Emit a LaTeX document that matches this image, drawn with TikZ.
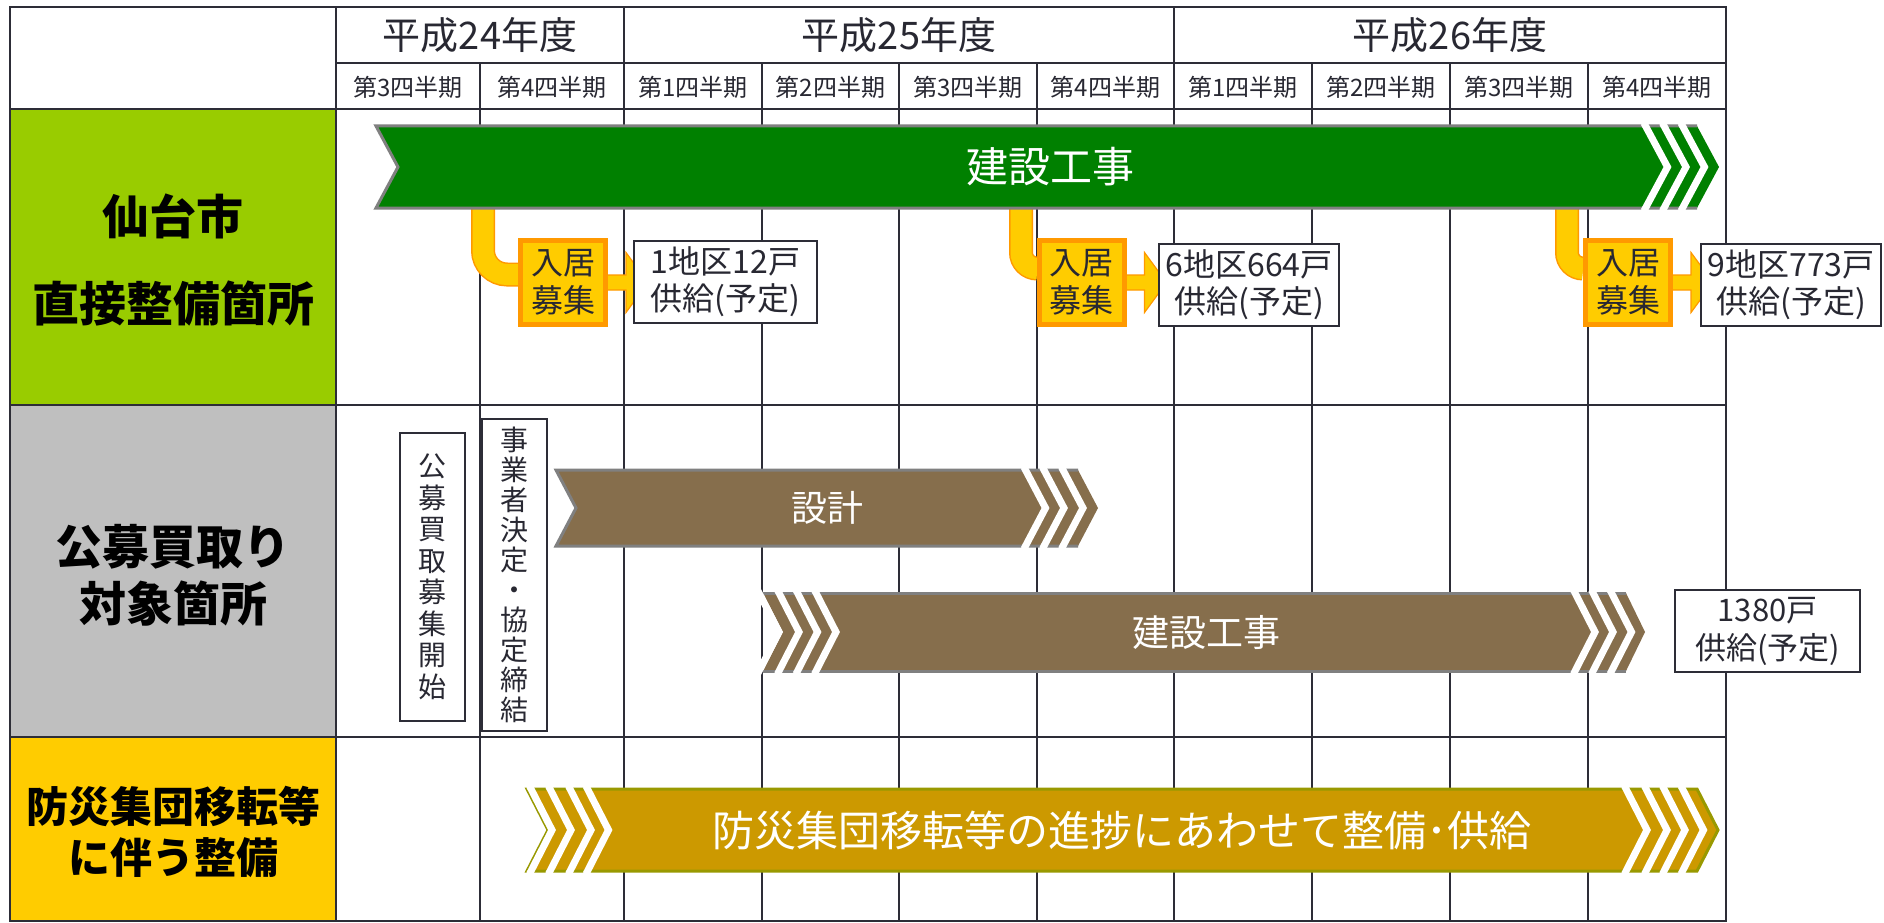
\documentclass[tikz,border=0pt]{standalone}
\usepackage{fontspec}
\setmainfont{Noto Sans CJK JP}
\definecolor{gridc}{RGB}{45,45,55}
\definecolor{txt}{RGB}{40,40,50}
\definecolor{lgreen}{RGB}{153,204,0}
\definecolor{lgray}{RGB}{191,191,191}
\definecolor{lyellow}{RGB}{255,204,0}
\definecolor{dgreen}{RGB}{0,128,0}
\definecolor{brownbar}{RGB}{134,110,76}
\definecolor{goldbar}{RGB}{204,153,0}
\definecolor{olivec}{RGB}{153,153,0}
\definecolor{barline}{RGB}{128,128,128}
\definecolor{orangec}{RGB}{255,153,0}
\pgfdeclarelayer{gridlayer}
\pgfdeclarelayer{links}
\begin{document}
\begin{tikzpicture}[x=1pt,y=-1pt,
  gridline/.style={draw=gridc, line width=2pt},
  hdr/.style={font=\fontsize{38}{44}\selectfont, text=txt, inner sep=0pt},
  qhdr/.style={font=\fontsize{24}{27}\selectfont, text=txt, inner sep=0pt},
  lbl/.style={align=center, text=black, inner sep=0pt},
  bartxt/.style={text=white, inner sep=0pt},
  wcut/.style={draw=white, line width=7pt, line join=miter},
  edge/.style={draw=barline, line width=3pt, line join=miter},
  tbox/.style={draw=gridc, fill=white, line width=2pt, inner sep=0pt, align=center, text=txt},
  obox/.style={draw=orangec, fill=lyellow, line width=5pt, inner sep=0pt, minimum width=85pt, minimum height=84pt, align=center, font=\fontsize{32}{38}\selectfont, text=txt},
  connout/.style={draw=orangec, line width=24pt},
  connin/.style={draw=lyellow, line width=21pt},
  barrow/.style={fill=lyellow, draw=orangec, line width=1.2pt, line join=miter}]
\pgfsetlayers{gridlayer,links,main}
\useasboundingbox (0,0) rectangle (1884,923);

\begin{pgfonlayer}{gridlayer}
\fill[white] (0,0) rectangle (1884,923);
\fill[lgreen] (10,109) rectangle (336,405);
\fill[lgray] (10,405) rectangle (336,737);
\fill[lyellow] (10,737) rectangle (336,921);
\draw[gridline] (10,7) rectangle (1726,921);
\draw[gridline] (336,63) -- (1726,63);
\foreach \yy in {109,405,737} \draw[gridline] (10,\yy) -- (1726,\yy);
\foreach \xx in {336,624,1174} \draw[gridline] (\xx,7) -- (\xx,921);
\foreach \xx in {480,762,899,1037,1312,1450,1588} \draw[gridline] (\xx,63) -- (\xx,921);
\end{pgfonlayer}

% headers
\node[hdr] (y24) at (480,35) {平成24年度};
\node[hdr] (y25) at (899,35) {平成25年度};
\node[hdr] (y26) at (1450,35) {平成26年度};
\foreach \xx/\qn [count=\i] in {408/3,552/4,693/1,830.5/2,968/3,1105.5/4,1243/1,1381/2,1519/3,1657/4}
  \node[qhdr] (q\i) at (\xx,87) {第\qn 四半期};

% row labels
\node[lbl, font=\bfseries\fontsize{47}{87}\selectfont] (l1) at (173,260) {仙台市\\直接整備箇所};
\node[lbl, font=\bfseries\fontsize{47}{57}\selectfont] (l2) at (173,575) {公募買取り\\対象箇所};
\node[lbl, font=\bfseries\fontsize{42}{51}\selectfont] (l3) at (173,832) {防災集団移転等\\に伴う整備};

% green bar
\fill[dgreen] (376,126) -- (1697,126) -- (1719,167) -- (1697,208) -- (376,208) -- (398,167) -- cycle;
\draw[edge] (1697,126) -- (376,126) -- (398,167) -- (376,208) -- (1697,208);
\foreach \xx in {1645.5,1664,1682.5} \draw[wcut] (\xx-1.6,123) -- (\xx+22,167) -- (\xx-1.6,211);
\node[bartxt, font=\fontsize{42}{48}\selectfont] (gtxt) at (1050,167) {建設工事};

% design bar
\fill[brownbar] (556,470) -- (1078,470) -- (1098,508) -- (1078,546) -- (556,546) -- (576,508) -- cycle;
\draw[edge] (1078,470) -- (556,470) -- (576,508) -- (556,546) -- (1078,546);
\foreach \xx in {1025.5,1044,1063} \draw[wcut] (\xx-1.6,467) -- (\xx+20,508) -- (\xx-1.6,549);
\node[bartxt, font=\fontsize{36}{42}\selectfont] (stxt) at (827,508) {設計};

% brown construction bar
\fill[brownbar] (763,593) -- (1626,593) -- (1645,632) -- (1626,671) -- (763,671) -- (783,632) -- cycle;
\draw[edge] (1626,593) -- (763,593);
\draw[edge] (763,671) -- (1626,671);
\foreach \xx in {759,779,797.5,816,1575,1593,1611.5} \draw[wcut] (\xx-1.5,590) -- (\xx+20,632) -- (\xx-1.5,674);
\node[bartxt, font=\fontsize{37}{42}\selectfont] (btxt) at (1206,632) {建設工事};

% gold bar
\fill[goldbar] (527,789) -- (1697,789) -- (1718,830) -- (1697,871) -- (527,871) -- (548,830) -- cycle;
\draw[draw=olivec, line width=3pt, line join=miter] (527,789) -- (1697,789) -- (1718,830) -- (1697,871) -- (527,871) -- (548,830) -- cycle;
\foreach \xx in {531,550,570,587.5,1626,1646,1664,1682.5} \draw[wcut] (\xx-1.5,786) -- (\xx+21,830) -- (\xx-1.5,874);
\node[bartxt, font=\fontsize{42}{48}\selectfont] (ytxt) at (1122,831) {防災集団移転等の進捗にあわせて整備･供給};

% recruitment boxes
\node[obox] (b1) at (563,282.5) {入居\\募集};
\node[obox] (b2) at (1081.5,282.5) {入居\\募集};
\node[obox] (b3) at (1628,282.5) {入居\\募集};

% supply boxes
\node[tbox, minimum width=183pt, minimum height=82pt, font=\fontsize{32}{37}\selectfont] (t1) at (725.5,282) {1地区12戸\\供給(予定)};
\node[tbox, minimum width=180pt, minimum height=82pt, font=\fontsize{32}{37}\selectfont] (t2) at (1249,285) {6地区664戸\\供給(予定)};
\node[tbox, minimum width=180pt, minimum height=82pt, font=\fontsize{32}{37}\selectfont] (t3) at (1791,285) {9地区773戸\\供給(予定)};
\node[tbox, minimum width=185pt, minimum height=82pt, font=\fontsize{31}{38}\selectfont] (t4) at (1767.5,631) {1380戸\\供給(予定)};

% vertical boxes
\node[tbox, minimum width=65pt, minimum height=288pt, font=\fontsize{28}{31.5}\selectfont] (v1) at (432.5,577) {公\\募\\買\\取\\募\\集\\開\\始};
\node[tbox, minimum width=65pt, minimum height=312pt, font=\fontsize{28}{30}\selectfont] (v2) at (514.5,575) {事\\業\\者\\決\\定\\・\\協\\定\\締\\結};

% connectors
\coordinate (s1) at (483,200);
\coordinate (s2) at (1021,200);
\coordinate (s3) at (1567,200);
\begin{pgfonlayer}{links}
\draw[connout, rounded corners=24pt] (s1) |- ([yshift=8pt]b1.west);
\draw[connin, rounded corners=24pt] (s1) |- ([yshift=8pt]b1.west);
\draw[connout, rounded corners=16pt] (s2) |- ([yshift=14pt]b2.west);
\draw[connin, rounded corners=16pt] (s2) |- ([yshift=14pt]b2.west);
\draw[connout, rounded corners=16pt] (s3) |- ([yshift=14pt]b3.west);
\draw[connin, rounded corners=16pt] (s3) |- ([yshift=14pt]b3.west);
\foreach \bx in {b1,b2,b3}
  \draw[barrow] ([yshift=7.5pt]\bx.center) -- ([xshift=18pt,yshift=7.5pt]\bx.east) -- ([xshift=18pt,yshift=30pt]\bx.east) -- ([xshift=40pt]\bx.east) -- ([xshift=18pt,yshift=-30pt]\bx.east) -- ([xshift=18pt,yshift=-7.5pt]\bx.east) -- ([yshift=-7.5pt]\bx.center) -- cycle;
\end{pgfonlayer}
\end{tikzpicture}
\end{document}
